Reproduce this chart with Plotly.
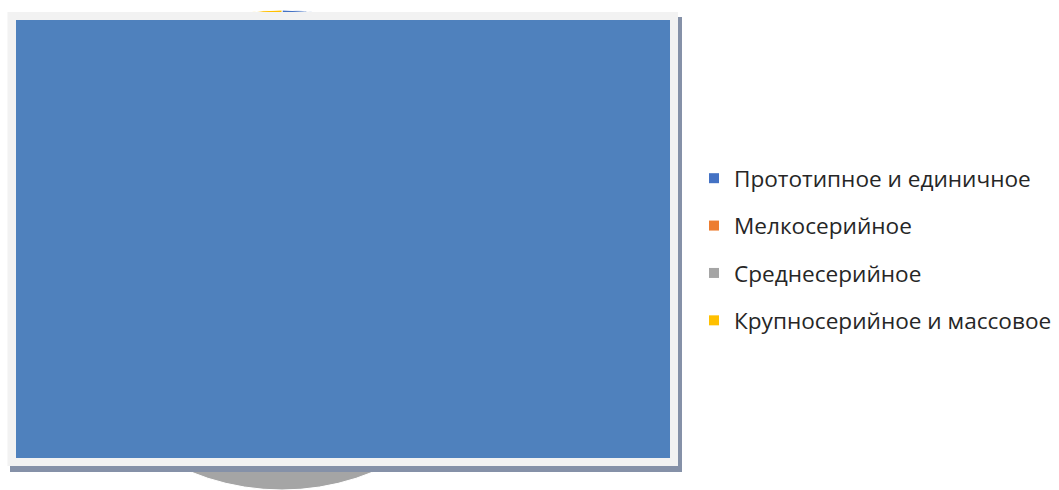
import plotly.graph_objects as go

W, H = 1059, 490

# Data (pie is mostly hidden behind the overlay rectangle; values estimated)
categories = ["Прототипное и единичное", "Мелкосерийное", "Среднесерийное", "Крупносерийное и массовое"]
values = [25, 15, 40, 20]
colors = ["#4472C4", "#ED7D31", "#A5A5A5", "#FFC000"]

def px(x):
    return x / W

def py(y):
    return 1 - y / H

fig = go.Figure()

cx, R = 282, 240
fig.add_trace(go.Pie(
    labels=categories, values=values, sort=False, direction="clockwise", rotation=0,
    marker=dict(colors=colors, line=dict(color="white", width=1)),
    textinfo="none", hoverinfo="label+value", showlegend=False,
    domain=dict(x=[px(cx - R), px(cx + R)], y=[0, 2 * R / H]),
))

# Legend entries (separate groups to reproduce the spacing)
for i, (c, col) in enumerate(zip(categories, colors)):
    fig.add_trace(go.Scatter(
        x=[None], y=[None], mode="markers", name=c, legendgroup=f"g{i}",
        marker=dict(symbol="square", size=10, color=col), showlegend=True,
    ))

shapes = [
    # shadow
    dict(type="rect", xref="paper", yref="paper", x0=px(10), x1=px(682), y0=py(472), y1=py(17),
         fillcolor="#8591A8", line=dict(width=0), layer="above"),
    # frame
    dict(type="rect", xref="paper", yref="paper", x0=px(7.5), x1=px(678), y0=py(466), y1=py(12),
         fillcolor="#F2F2F2", line=dict(width=0), layer="above"),
    # blue panel
    dict(type="rect", xref="paper", yref="paper", x0=px(16), x1=px(670), y0=py(458), y1=py(20),
         fillcolor="#4F81BD", line=dict(width=0), layer="above"),
]

fig.update_layout(
    width=W, height=H,
    margin=dict(l=0, r=0, t=0, b=0),
    paper_bgcolor="white", plot_bgcolor="white",
    xaxis=dict(visible=False), yaxis=dict(visible=False),
    shapes=shapes,
    showlegend=True,
    legend=dict(
        x=px(694), xanchor="left", y=py(249.5), yanchor="middle",
        font=dict(family="Open Sans", size=22.6, color="#262626"),
        tracegroupgap=15, bgcolor="rgba(0,0,0,0)", itemsizing="trace",
    ),
)

fig.write_html("out.html")
